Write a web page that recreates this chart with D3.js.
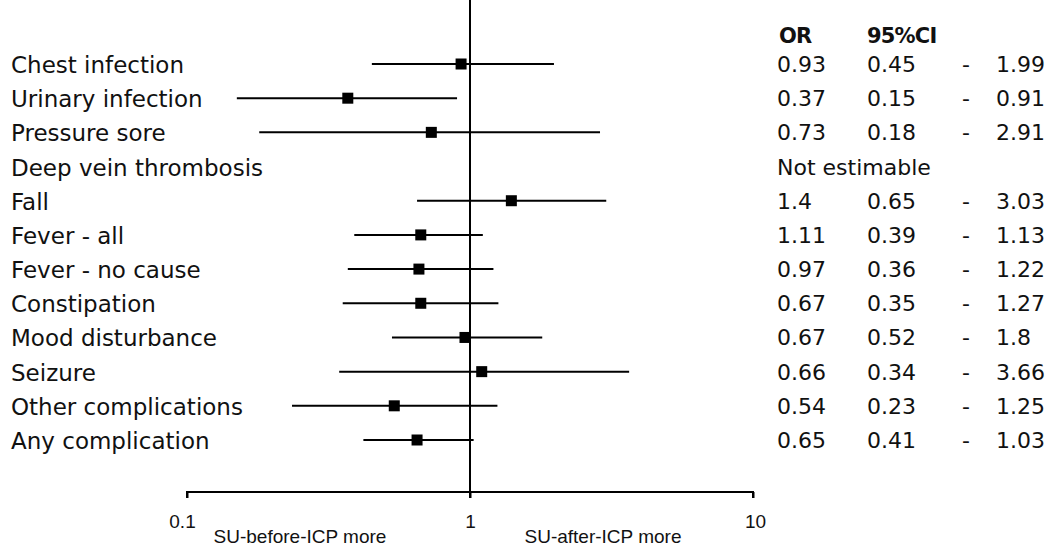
<!DOCTYPE html>
<html>
<head>
<meta charset="utf-8">
<script src="https://cdn.jsdelivr.net/npm/d3@7"></script>
<style>
  body { margin: 0; background: #fff; }
  svg { display: block; }
  .lbl { font-family: "DejaVu Sans", Verdana, sans-serif; font-size: 23px; fill: #111; }
  .num { font-family: "DejaVu Sans", Verdana, sans-serif; font-size: 22px; fill: #111; }
  .hdr { font-family: "DejaVu Sans", Verdana, sans-serif; font-size: 21px; font-weight: bold; fill: #111; letter-spacing: -0.8px; }
  .ax { font-family: "Liberation Sans", Arial, sans-serif; font-size: 19px; fill: #111; }
</style>
</head>
<body>
<svg id="chart" width="1052" height="549"></svg>
<script>
// outcomes, top to bottom
const outcomes = ['Chest infection', 'Urinary infection', 'Pressure sore', 'Deep vein thrombosis',
  'Fall', 'Fever - all', 'Fever - no cause', 'Constipation', 'Mood disturbance', 'Seizure',
  'Other complications', 'Any complication'];

// plotted odds ratios and CI ends, as drawn (null = not estimable)
const estimate = [0.93, 0.37, 0.73, null, 1.4, 0.67, 0.66, 0.67, 0.96, 1.10, 0.54, 0.65];
const ciLow    = [0.45, 0.15, 0.18, null, 0.65, 0.39, 0.37, 0.355, 0.53, 0.345, 0.235, 0.42];
const ciHigh   = [1.98, 0.90, 2.88, null, 3.03, 1.11, 1.21, 1.26, 1.80, 3.65, 1.25, 1.03];

// table columns as printed
const orText   = ['0.93', '0.37', '0.73', 'Not estimable', '1.4', '1.11', '0.97', '0.67', '0.67', '0.66', '0.54', '0.65'];
const lowText  = ['0.45', '0.15', '0.18', '', '0.65', '0.39', '0.36', '0.35', '0.52', '0.34', '0.23', '0.41'];
const highText = ['1.99', '0.91', '2.91', '', '3.03', '1.13', '1.22', '1.27', '1.8', '3.66', '1.25', '1.03'];

const xTicks = [0.1, 1, 10];

const svg = d3.select('#chart');
const rows = outcomes.map((name, i) => ({
  name, est: estimate[i], lo: ciLow[i], hi: ciHigh[i],
  or: orText[i], l: lowText[i], h: highText[i]
}));

const x = d3.scaleLog().domain([0.1, 10]).range([187, 753]);
const y = d3.scalePoint().domain(outcomes).range([64, 440]);
const axisY = 492;

// null line at OR = 1
svg.append('line')
  .attr('x1', x(1)).attr('x2', x(1))
  .attr('y1', 0).attr('y2', axisY + 6)
  .attr('stroke', '#000').attr('stroke-width', 2);

// bottom axis with downward end ticks
const axis = d3.axisBottom(x).tickValues(xTicks).tickSize(6).tickFormat(d3.format('~g'));
const gAx = svg.append('g').attr('transform', `translate(0,${axisY})`).call(axis);
gAx.attr('font-size', null).attr('font-family', null);
gAx.select('.domain').attr('stroke', '#000').attr('stroke-width', 2)
  .attr('d', `M${x(0.1)},6V0H${x(10)}V6`);
gAx.selectAll('.tick line').attr('stroke', '#000').attr('stroke-width', 2);
gAx.selectAll('.tick text')
  .attr('class', 'ax').attr('y', 23).attr('dy', '0.71em')
  .attr('dx', d => d === 0.1 ? -5 : (d === 10 ? 2 : 0));

svg.append('text').attr('class', 'ax')
  .attr('x', 300).attr('y', 543).attr('text-anchor', 'middle')
  .text('SU-before-ICP more');
svg.append('text').attr('class', 'ax')
  .attr('x', 603).attr('y', 543).attr('text-anchor', 'middle')
  .text('SU-after-ICP more');

// outcome labels
svg.selectAll('.name').data(rows).enter().append('text')
  .attr('class', 'lbl name')
  .attr('x', 11).attr('y', d => y(d.name) + 9)
  .text(d => d.name);

// CI lines and squares
const est = rows.filter(d => d.est != null);
svg.selectAll('.ci').data(est).enter().append('line')
  .attr('x1', d => x(d.lo)).attr('x2', d => x(d.hi))
  .attr('y1', d => y(d.name)).attr('y2', d => y(d.name))
  .attr('stroke', '#000').attr('stroke-width', 2);
const sq = 11;
svg.selectAll('.pt').data(est).enter().append('rect')
  .attr('x', d => x(d.est) - sq / 2).attr('y', d => y(d.name) - sq / 2)
  .attr('width', sq).attr('height', sq).attr('fill', '#000');

// table on the right
svg.append('text').attr('class', 'hdr').attr('x', 779).attr('y', 43).text('OR');
svg.append('text').attr('class', 'hdr').attr('x', 867).attr('y', 43).text('95%CI');
const tbl = svg.selectAll('.row').data(rows).enter().append('g')
  .attr('transform', d => `translate(0,${y(d.name) + 8})`);
tbl.append('text').attr('class', 'num').attr('x', 777).text(d => d.or);
tbl.append('text').attr('class', 'num').attr('x', 867).text(d => d.l);
tbl.filter(d => d.l !== '').append('text').attr('class', 'num')
  .attr('x', 966).attr('text-anchor', 'middle').text('-');
tbl.append('text').attr('class', 'num').attr('x', 996).text(d => d.h);
</script>
</body>
</html>
